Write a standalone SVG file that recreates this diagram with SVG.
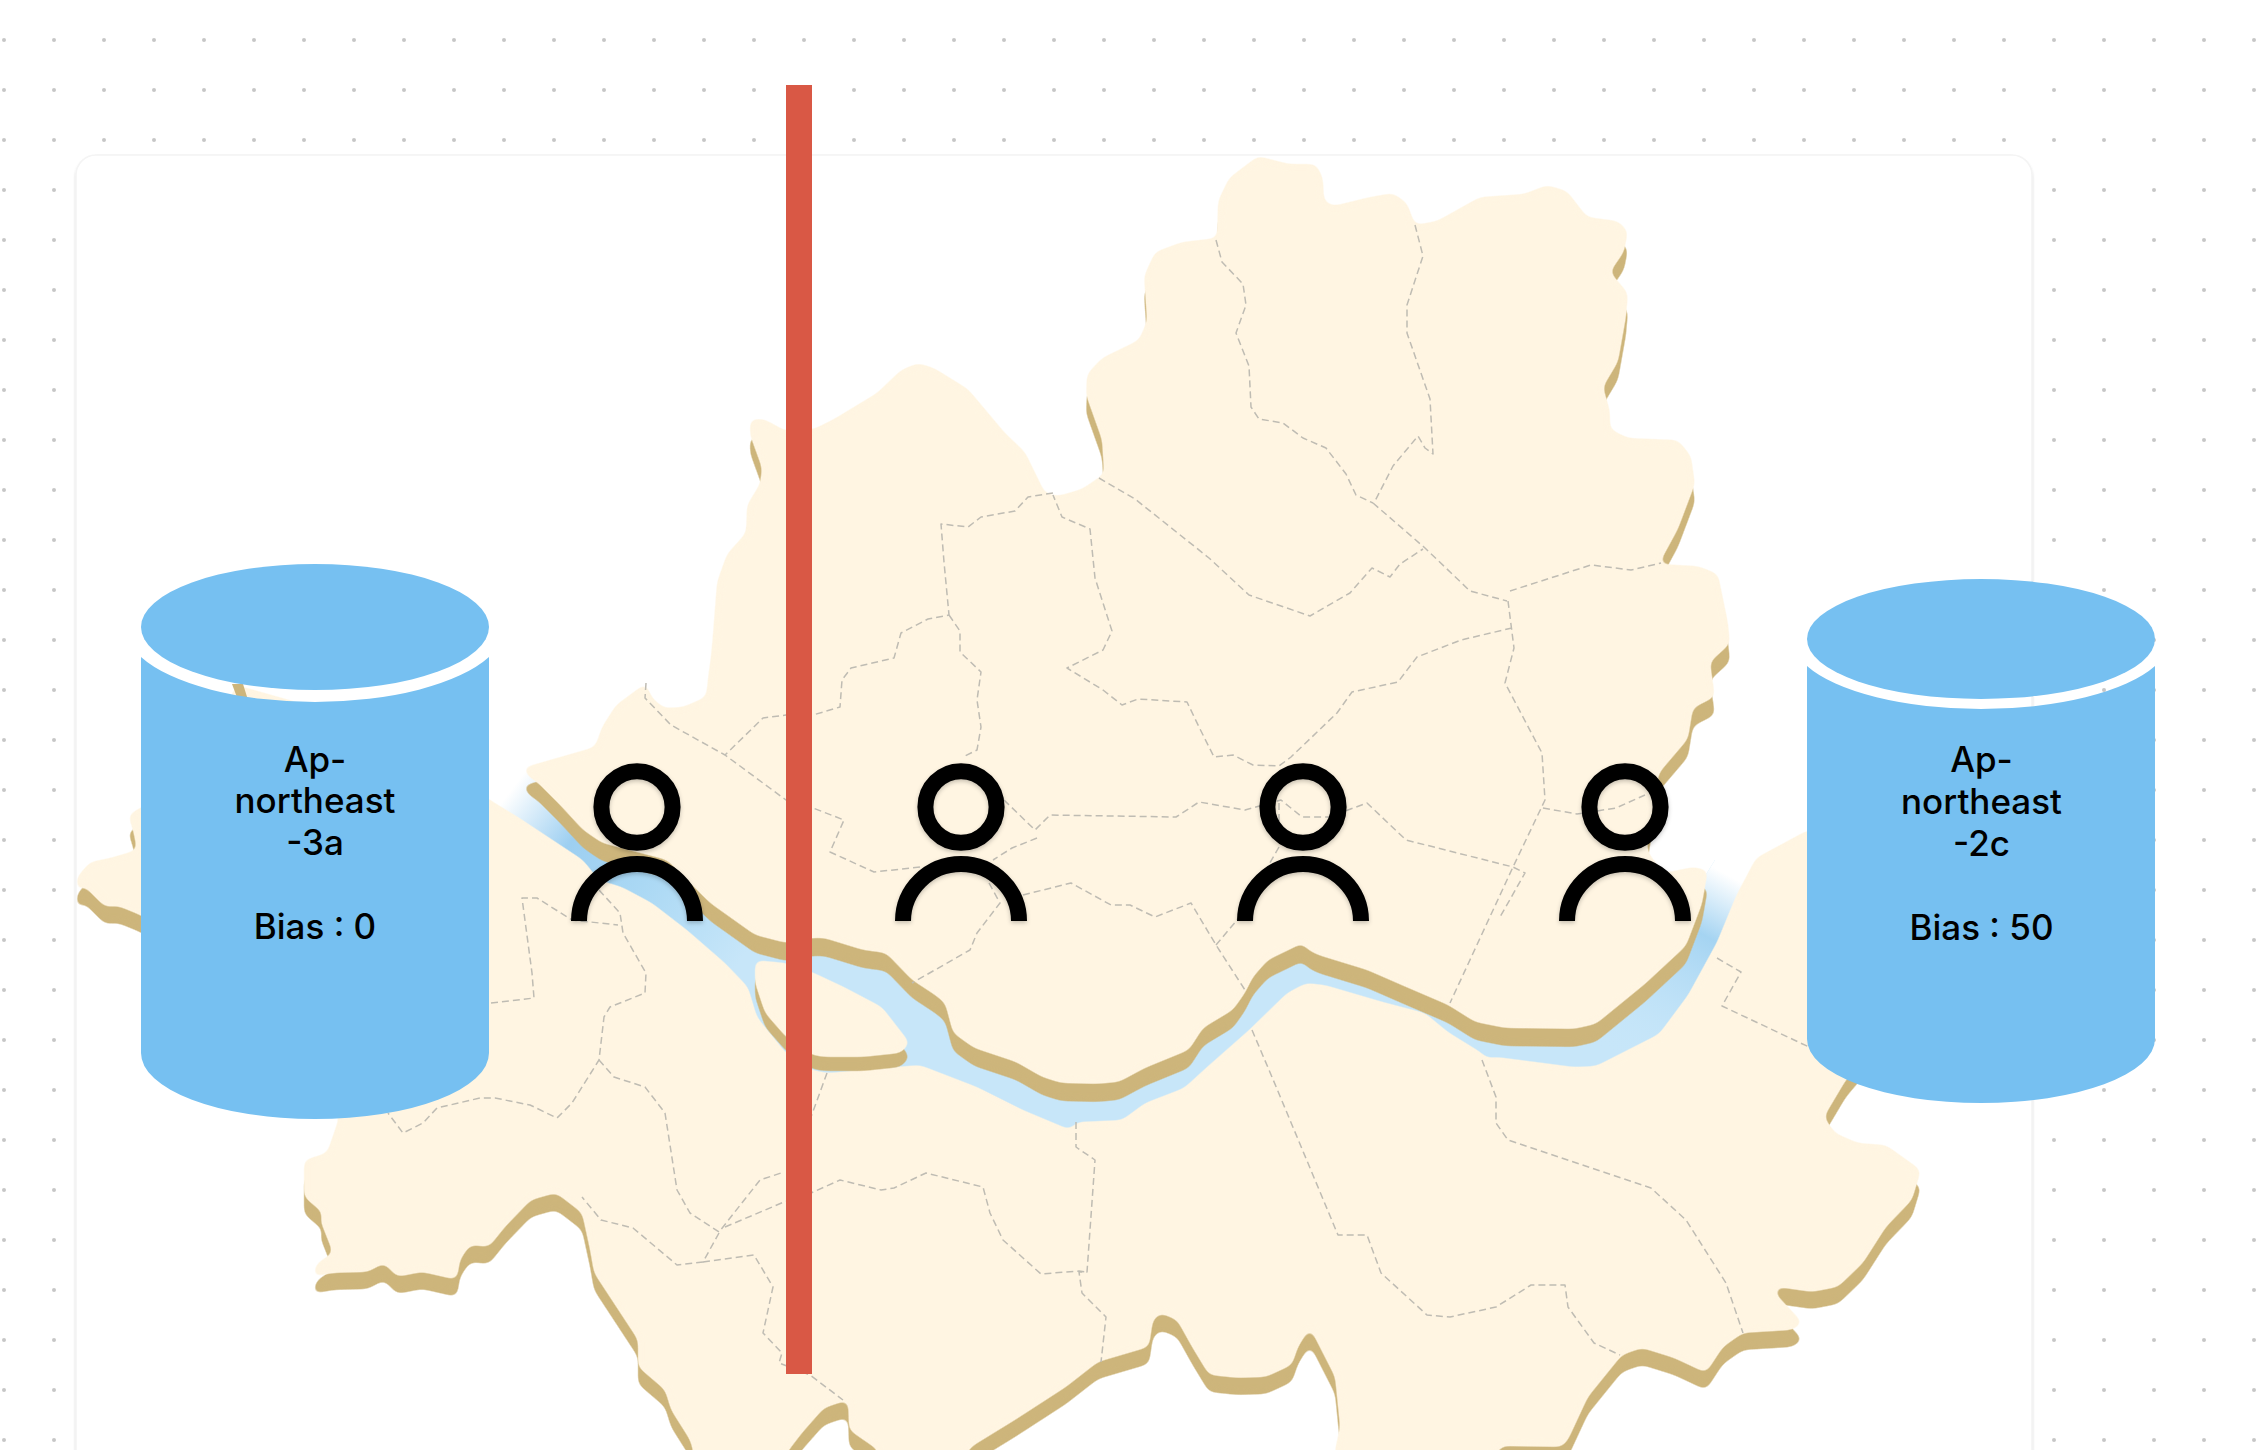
<svg xmlns="http://www.w3.org/2000/svg" xmlns:xlink="http://www.w3.org/1999/xlink" width="2256" height="1450" viewBox="0 0 2256 1450">
<style>
.land{fill:#FFF5E2}
.tan{fill:#CDB57B}
.cyl{fill:#76C0F1}
.bd{fill:none;stroke:#bfbcb3;stroke-width:1.5;stroke-dasharray:7 4;stroke-linejoin:round}
.lbl{font-family:Inter,"Noto Sans","Liberation Sans",sans-serif;font-size:35px;font-weight:500;fill:#000;text-anchor:middle}
.head,.arm{fill:none;stroke:#000;stroke-width:16}
</style>
<defs>
<pattern id="dots" width="50" height="50" patternUnits="userSpaceOnUse"><circle cx="4" cy="40" r="2" fill="#c6c6c6"/></pattern>
<filter id="cardShadow" x="-2%" y="-2%" width="104%" height="104%"><feDropShadow dx="0" dy="2" stdDeviation="1.2" flood-color="#000" flood-opacity="0.16"/></filter>
<filter id="smooth" filterUnits="userSpaceOnUse" x="0" y="0" width="2256" height="1500" color-interpolation-filters="sRGB"><feGaussianBlur stdDeviation="4.5"/><feColorMatrix type="matrix" values="1 0 0 0 0 0 1 0 0 0 0 0 1 0 0 0 0 0 8 -3.5"/></filter>
<filter id="soft" filterUnits="userSpaceOnUse" x="0" y="0" width="2256" height="1500"><feGaussianBlur stdDeviation="0.5"/></filter>
<filter id="pshadow" x="-20%" y="-20%" width="140%" height="140%"><feDropShadow dx="0" dy="2" stdDeviation="2" flood-color="#000" flood-opacity="0.22"/></filter>
<linearGradient id="rw" gradientUnits="userSpaceOnUse" x1="515" y1="785" x2="800" y2="1000"><stop offset="0" stop-color="#fff"/><stop offset="0.22" stop-color="#9DCFF1"/><stop offset="0.45" stop-color="#AAD8F4"/><stop offset="0.8" stop-color="#C7E6F9"/></linearGradient>
<linearGradient id="re" gradientUnits="userSpaceOnUse" x1="1722" y1="872" x2="1620" y2="1060"><stop offset="0" stop-color="#fff"/><stop offset="0.3" stop-color="#A5D4F2"/><stop offset="1" stop-color="#C7E6F9" stop-opacity="0"/></linearGradient>
<path id="river" d="M490 760 L600 800 720 880 820 900 950 950 1050 1040 1200 1010 1300 920 1450 970 1600 1000 1690 900 1715 860 1770 860 1760 880 1700 1000 1620 1100 1400 1060 1300 1010 1150 1140 1060 1150 900 1100 800 1100 700 1000 600 920 490 820Z"/>
<path id="southLand" d="M490 800 L518 817 583 860 599 880 622 887 652 903 687 930 725 963 748 987 757 1017 786 1053 812 1070 828 1073 882 1068 920 1065 977 1087 1023 1110 1066 1128 1069 1130 1077 1122 1122 1120 1145 1103 1184 1088 1207 1067 1249 1030 1287 993 1306 983 1325 985 1383 1002 1425 1013 1448 1032 1482 1053 1486 1058 1497 1057 1536 1062 1574 1067 1596 1066 1659 1034 1688 995 1717 942 1736 896 1756 858 1806 831 1840 825 1880 840 1880 1040 1846 1080 1824 1117 1835 1133 1858 1143 1886 1145 1921 1170 1918 1180 1912 1200 1886 1227 1863 1263 1838 1287 1812 1292 1777 1287 1775 1293 1803 1323 1792 1330 1743 1333 1723 1347 1706 1373 1674 1358 1642 1348 1622 1355 1588 1397 1568 1440 1562 1447 1502 1446 1480 1475 1335 1480 1335 1450 1340 1427 1335 1377 1310 1328 1298 1347 1292 1365 1266 1377 1238 1378 1209 1375 1192 1347 1177 1320 1160 1313 1153 1320 1149 1347 1098 1362 1066 1387 1015 1420 971 1447 950 1480 878 1480 878 1450 849 1430 848 1400 824 1408 802 1433 789 1450 770 1480 693 1480 693 1450 690 1440 671 1410 665 1390 638 1367 638 1340 594 1273 590 1250 585 1227 582 1213 556 1193 531 1200 505 1227 489 1247 470 1245 460 1260 457 1280 422 1272 397 1277 384 1263 368 1272 333 1273 312 1277 317 1263 333 1253 320 1220 323 1213 304 1197 304 1160 327 1153 339 1118 330 1100 200 950 140 915 118 906 105 907 93 895 83 885 76 895 77 877 90 862 110 858 137 850 133 830 128 815 140 808 225 760 232 690 240 686 300 703 320 760 489 798Z"/>
<path id="island" d="M755 960 L786 963 812 972 844 987 882 1007 910 1043 901 1053 863 1057 824 1057 812 1055 786 1037 765 1013 755 983Z"/>
<path id="northLand" d="M522 768 L595 747 602 727 616 705 646 683 652 698 664 708 683 707 706 697 710 660 711 640 710 672 717 582 727 554 746 533 747 505 760 484 762 468 750 435 750 419 764 419 786 431 814 429 834 419 877 393 901 370 918 363 934 368 968 389 1005 433 1025 452 1045 493 1058 496 1082 489 1104 474 1102 440 1086 395 1087 374 1102 358 1139 340 1147 321 1144 276 1155 252 1182 242 1217 238 1218 201 1229 178 1258 156 1289 164 1316 164 1323 178 1324 201 1333 206 1370 197 1393 193 1407 203 1415 225 1437 221 1480 197 1524 194 1547 185 1567 191 1587 217 1618 221 1628 231 1624 252 1610 272 1628 293 1626 317 1618 362 1603 387 1610 411 1610 429 1628 438 1678 440 1691 456 1695 484 1678 529 1659 564 1698 566 1718 574 1728 623 1730 644 1710 662 1715 697 1693 708 1688 739 1659 773 1647 846 1649 854 1664 873 1693 867 1708 870 1702 904 1686 946 1645 984 1596 1024 1574 1029 1505 1028 1475 1022 1448 1005 1406 987 1367 970 1318 955 1308 950 1302 943 1295 947 1268 960 1253 977 1245 993 1233 1010 1203 1028 1189 1050 1145 1068 1119 1082 1096 1084 1061 1083 1042 1077 1016 1062 974 1048 953 1033 945 1003 935 995 912 980 886 953 863 950 824 938 812 938 786 943 755 935 710 903 667 860 602 843 583 830 560 805 537 782 530 778Z"/>
</defs>
<rect id="bg" width="2256" height="1450" fill="#fff"/>
<rect id="dotgrid" width="2256" height="1450" fill="url(#dots)"/>
<rect id="card" x="76" y="155" width="1956" height="1400" rx="20" fill="#fff" stroke="#f4f4f4" stroke-width="1.5" filter="url(#cardShadow)"/>
<g id="map">
<g id="water" filter="url(#soft)">
<use href="#river" fill="url(#rw)"/>
<use href="#river" fill="url(#re)"/>
</g>
<g id="south-shadow" class="tan" filter="url(#smooth)"><use href="#southLand" transform="translate(0,17)"/></g>
<path id="shadow-cut" fill="#fff" d="M290 1100 L345 1100 350 1125 335 1172 295 1176Z"/>
<g id="south-land" class="land" filter="url(#smooth)"><use href="#southLand"/></g>
<g id="island-shadow" class="tan" filter="url(#smooth)"><use href="#island" transform="translate(0,14)"/></g>
<g id="island-land" class="land" filter="url(#smooth)"><use href="#island"/></g>
<g id="north-shadow" class="tan" filter="url(#smooth)"><use href="#northLand" transform="translate(0,18)"/></g>
<g id="north-land" class="land" filter="url(#smooth)"><use href="#northLand"/></g>
<path class="tan" d="M232 684 L243 684 248 700 238 700Z"/>
<g id="borders" filter="url(#soft)">
<path class="bd" d="M1216 240 L1222 262 1243 284 1246 305 1236 333 1249 366 1251 407 1259 419 1283 423 1303 438 1326 448 1346 474 1356 495 1373 503"/>
<path class="bd" d="M1415 225 L1423 256 1407 305 1407 333 1430 399 1433 454 1425 448 1418 436 1393 466 1375 501"/>
<path class="bd" d="M1373 503 L1425 548 1470 591 1507 601"/>
<path class="bd" d="M1508 601 L1514 648 1505 683 1542 753 1545 800 1513 867 1450 1003"/>
<path class="bd" d="M1510 591 L1591 565 1631 570 1661 563"/>
<path class="bd" d="M1512 628 L1461 640 1417 657 1398 682 1352 692 1337 713 1291 757 1279 766 1253 765 1233 755 1214 757 1199 727 1187 702 1138 699 1122 705 1103 690 1067 668 1103 650 1112 631 1095 578 1090 529 1062 517 1053 495"/>
<path class="bd" d="M1099 478 L1135 499 1209 558 1249 595 1310 616 1350 593 1372 568 1390 577 1400 564 1423 549"/>
<path class="bd" d="M1053 493 L1028 497 1015 511 981 517 968 527 941 524 944 562 949 615 928 619 901 633 894 658 851 668 842 680 840 707 813 715 786 715 763 718 725 755"/>
<path class="bd" d="M949 615 L960 631 960 652 981 672 977 700 981 727 977 750 963 757"/>
<path class="bd" d="M646 683 L645 698 671 725 725 755 786 800 813 808 844 820 830 852 874 872 920 867"/>
<path class="bd" d="M1004 800 L1035 830 1050 815 1176 817 1199 802 1245 810 1281 800 1302 817 1329 817 1367 803 1406 840 1513 867 1525 873 1500 917"/>
<path class="bd" d="M1543 808 L1577 814 1616 808 1645 795"/>
<path class="bd" d="M1037 838 L1012 848 993 860"/>
<path class="bd" d="M1023 895 L1071 883 1111 905 1130 905 1155 917 1191 903 1216 945 1245 990"/>
<path class="bd" d="M1279 803 L1279 847 1237 920 1216 945"/>
<path class="bd" d="M989 883 L1000 903 977 933 970 950 912 983"/>
<path class="bd" d="M491 1003 L534 998 532 973 522 898 537 898 572 920 618 925"/>
<path class="bd" d="M599 890 L620 913 623 933 646 973 645 993 610 1007 604 1017 599 1060 572 1103 557 1118 530 1105 495 1098 480 1098 437 1108 423 1123 403 1133 388 1113"/>
<path class="bd" d="M599 1060 L614 1077 645 1087 665 1113 677 1190 690 1213 719 1232 760 1180 784 1172"/>
<path class="bd" d="M725 1227 L784 1202 811 1193 840 1180 881 1190 894 1188 926 1173 983 1187 990 1213 1003 1240 1041 1274 1079 1271 1087 1272"/>
<path class="bd" d="M1076 1122 L1076 1147 1095 1160 1087 1272 1079 1272 1082 1293 1106 1317 1101 1362"/>
<path class="bd" d="M719 1233 L703 1262 677 1265 633 1228 601 1220 582 1197"/>
<path class="bd" d="M703 1262 L754 1255 773 1287 763 1333 782 1353 779 1363 810 1375 843 1400"/>
<path class="bd" d="M827 1073 L811 1117"/>
<path class="bd" d="M1252 1030 L1272 1077 1338 1235 1367 1235 1381 1273 1427 1315 1450 1317 1496 1307 1531 1285 1565 1285 1568 1307 1594 1343 1620 1355"/>
<path class="bd" d="M1482 1060 L1496 1097 1496 1123 1508 1140 1651 1188 1686 1220 1726 1283 1743 1333"/>
<path class="bd" d="M1717 958 L1741 972 1722 1006 1809 1047"/>
</g>
</g>
<rect id="divider" x="786" y="85" width="26" height="1289" fill="#D95845"/>
<g id="az-3a">
<ellipse class="cyl" cx="315" cy="627" rx="174" ry="63"/>
<path class="cyl" d="M141 657 A190 75 0 0 0 489 657 L489 1053 A174 66 0 0 1 141 1053Z"/>
<text class="lbl" x="315" y="772">Ap-</text>
<text class="lbl" x="315" y="813">northeast</text>
<text class="lbl" x="315" y="855">-3a</text>
<text class="lbl" x="315" y="939">Bias : 0</text>
</g>
<g id="az-2c">
<ellipse class="cyl" cx="1981" cy="639" rx="174" ry="60"/>
<path class="cyl" d="M1807 666 A188.6 70 0 0 0 2155 666 L2155 1039 A174 64 0 0 1 1807 1039Z"/>
<text class="lbl" x="1981.5" y="772">Ap-</text>
<text class="lbl" x="1981.5" y="814">northeast</text>
<text class="lbl" x="1981.5" y="856">-2c</text>
<text class="lbl" x="1981.5" y="940">Bias : 50</text>
</g>
<g id="user-1" filter="url(#pshadow)"><ellipse class="head" cx="637" cy="807" rx="35.6" ry="35.8"/><path class="arm" d="M579 921 A58 57 0 0 1 695 921"/></g>
<g id="user-2" filter="url(#pshadow)"><ellipse class="head" cx="961" cy="807" rx="35.6" ry="35.8"/><path class="arm" d="M903 921 A58 57 0 0 1 1019 921"/></g>
<g id="user-3" filter="url(#pshadow)"><ellipse class="head" cx="1303" cy="807" rx="35.6" ry="35.8"/><path class="arm" d="M1245 921 A58 57 0 0 1 1361 921"/></g>
<g id="user-4" filter="url(#pshadow)"><ellipse class="head" cx="1625" cy="807" rx="35.6" ry="35.8"/><path class="arm" d="M1567 921 A58 57 0 0 1 1683 921"/></g>
</svg>
